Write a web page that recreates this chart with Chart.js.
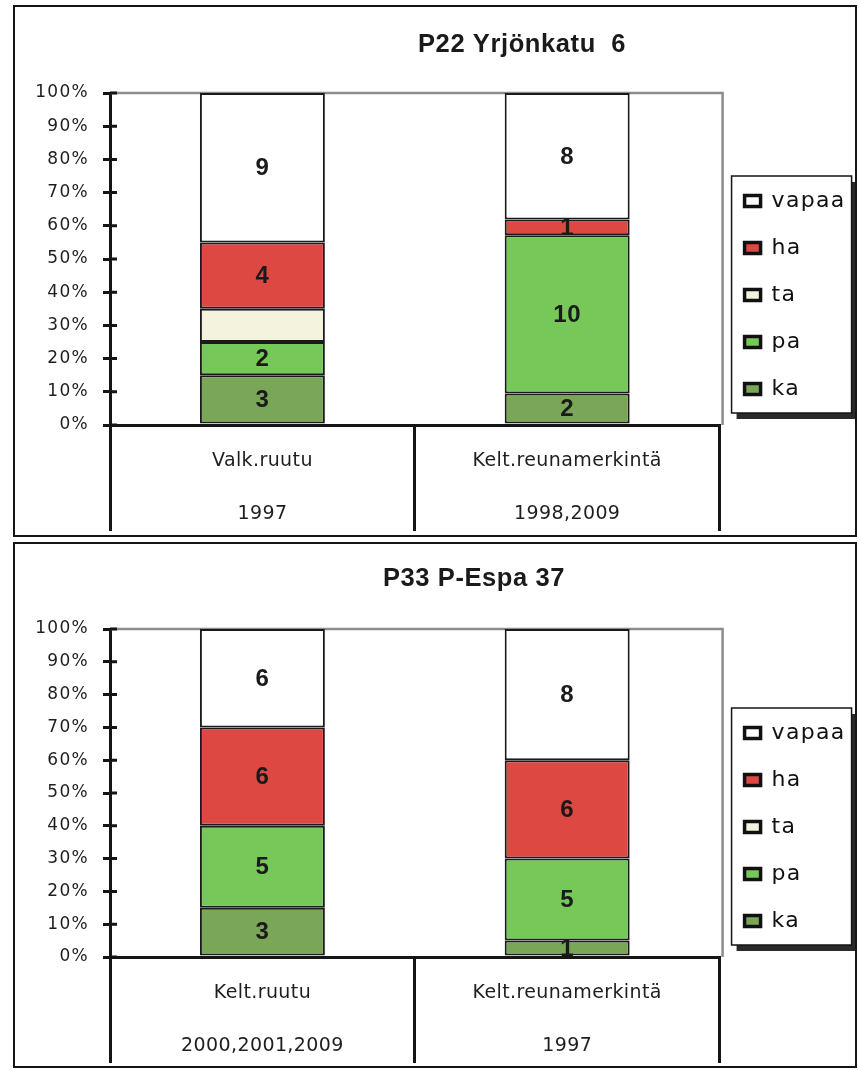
<!DOCTYPE html>
<html>
<head>
<meta charset="utf-8">
<script src="https://cdn.jsdelivr.net/npm/chart.js@4"></script>
<style>
  html, body { margin: 0; padding: 0; background: #fff; }
  .panel { position: absolute; left: 13px; border: 2px solid #151515; background: #fff; }
  .panel canvas { display: block; }
</style>
</head>
<body>
<div class="panel" style="top:5px;width:840px;height:528px"><canvas id="chartP22" width="840" height="528"></canvas></div>
<div class="panel" style="top:542px;width:840px;height:522px"><canvas id="chartP33" width="840" height="522"></canvas></div>
<script>
// Stacking order, bottom to top
const seriesNames = ['ka', 'pa', 'ta', 'ha', 'vapaa'];
// Series whose counts are printed inside the bars
const labelledSeries = ['ka', 'pa', 'ha', 'vapaa'];
// Y axis ticks (percent of the bar)
const percentTicks = [0, 10, 20, 30, 40, 50, 60, 70, 80, 90, 100];

// P22 Yrjönkatu 6
const titleP22 = 'P22 Yrjönkatu  6';
const categoriesP22 = [['Valk.ruutu', '1997'], ['Kelt.reunamerkintä', '1998,2009']];
const p22Ka = [3, 2];
const p22Pa = [2, 10];
const p22Ta = [2, 0];
const p22Ha = [4, 1];
const p22Vapaa = [9, 8];

// P33 P-Espa 37
const titleP33 = 'P33 P-Espa 37';
const categoriesP33 = [['Kelt.ruutu', '2000,2001,2009'], ['Kelt.reunamerkintä', '1997']];
const p33Ka = [3, 1];
const p33Pa = [5, 5];
const p33Ta = [0, 0];
const p33Ha = [6, 6];
const p33Vapaa = [6, 8];

const seriesColors = {
  ka: '#7aa658',
  pa: '#76c958',
  ta: '#f4f4de',
  ha: '#dd4842',
  vapaa: '#ffffff'
};

const INK = '#151515';
const SANS = '"Liberation Sans", Arial, sans-serif';
const WIDE = '"DejaVu Sans", Verdana, sans-serif';

// Frame, title, value labels and inner tick stubs around the Chart.js output
const panelDecor = {
  id: 'panelDecor',
  beforeDraw(chart, args, opts) {
    const { ctx, legend } = chart;
    const hb = legend && legend.legendHitBoxes;
    if (hb && hb.length) {
      const left = legend.left + opts.frameDx;
      const w = opts.frameW;
      const top = hb[0].top - opts.framePadTop;
      const last = hb[hb.length - 1];
      const bottom = last.top + last.height + opts.framePadBottom;
      ctx.save();
      ctx.fillStyle = '#2a2a2a';
      ctx.fillRect(left + w, top + 6, 6, bottom - top);
      ctx.fillRect(left + 5, bottom, w + 1, 6);
      ctx.fillStyle = '#ffffff';
      ctx.fillRect(left, top, w, bottom - top);
      ctx.strokeStyle = INK;
      ctx.lineWidth = 1.5;
      ctx.strokeRect(left, top, w, bottom - top);
      ctx.restore();
    }
    // legend and value-axis text are drawn before the bars
    ctx.letterSpacing = '1.3px';
  },
  beforeDatasetsDraw(chart) {
    const { ctx, chartArea: a } = chart;
    ctx.save();
    ctx.strokeStyle = '#8c8c8c';
    ctx.lineWidth = 2.5;
    ctx.beginPath();
    ctx.moveTo(a.left, a.top);
    ctx.lineTo(a.right + 3, a.top);
    ctx.lineTo(a.right + 3, a.bottom);
    ctx.stroke();
    ctx.restore();
  },
  afterDatasetsDraw(chart) {
    // category labels are drawn after the bars (ticks.z = 1)
    chart.ctx.letterSpacing = '0.4px';
  },
  afterDraw(chart, args, opts) {
    const { ctx, chartArea: a } = chart;
    const yScale = chart.scales.y;
    ctx.save();
    // tick marks crossing to the inside of the value axis
    ctx.strokeStyle = INK;
    ctx.lineWidth = 3;
    ctx.beginPath();
    yScale.ticks.forEach(t => {
      const py = yScale.getPixelForValue(t.value);
      ctx.moveTo(a.left, py);
      ctx.lineTo(a.left + 7, py);
    });
    ctx.stroke();

    // chart title
    ctx.letterSpacing = '0.6px';
    ctx.fillStyle = '#1a1a1a';
    ctx.font = 'bold 25.5px ' + SANS;
    ctx.textAlign = 'center';
    ctx.textBaseline = 'alphabetic';
    ctx.fillText(opts.title, opts.titleX, opts.titleY);

    // counts in the middle of each segment
    ctx.letterSpacing = '0.5px';
    ctx.font = 'bold 24px ' + SANS;
    ctx.textBaseline = 'middle';
    chart.data.datasets.forEach((ds, i) => {
      if (!labelledSeries.includes(ds.label)) return;
      const meta = chart.getDatasetMeta(i);
      meta.data.forEach((el, j) => {
        const n = ds.counts[j];
        if (!n) return;
        ctx.fillText(String(n), el.x, (el.y + el.base) / 2 + 1);
      });
    });
    ctx.restore();
    ctx.letterSpacing = '0px';
  }
};

function buildChart(canvasId, spec) {
  const totals = spec.categories.map((_, j) =>
    seriesNames.reduce((s, name) => s + spec.counts[name][j], 0));
  const datasets = seriesNames.map(name => ({
    label: name,
    counts: spec.counts[name],
    data: spec.counts[name].map((c, j) => c / totals[j] * 100),
    backgroundColor: seriesColors[name],
    borderColor: '#1a1a1a',
    borderWidth: 2,
    borderSkipped: false,
    barPercentage: 0.41,
    categoryPercentage: 1.0
  }));

  return new Chart(document.getElementById(canvasId), {
    type: 'bar',
    data: { labels: spec.categories, datasets },
    options: {
      responsive: false,
      animation: false,
      events: [],
      layout: { padding: { top: spec.plotTop, right: 6, bottom: 0, left: 0 } },
      scales: {
        x: {
          stacked: true,
          offset: true,
          grid: { drawOnChartArea: false, drawTicks: true, tickLength: 106, lineWidth: 3, color: INK, offset: true },
          border: { display: true, width: 3, color: INK },
          ticks: {
            padding: -96, z: 1, color: '#1e1e1e', maxRotation: 0, autoSkip: false,
            font: { family: WIDE, size: 19, lineHeight: 53 / 19 }
          },
          afterFit: s => { s.height = spec.axisBand; }
        },
        y: {
          stacked: true,
          min: 0,
          max: 100,
          grid: { drawOnChartArea: false, drawTicks: true, tickLength: 7, lineWidth: 3, color: INK },
          border: { display: true, width: 3, color: INK },
          ticks: {
            padding: 14, color: '#1e1e1e',
            font: { family: WIDE, size: 17 },
            callback: v => v + '%'
          },
          afterBuildTicks: s => { s.ticks = percentTicks.map(v => ({ value: v })); },
          afterFit: s => { s.width = 95; }
        }
      },
      plugins: {
        title: { display: false },
        tooltip: { enabled: false },
        legend: {
          position: 'right',
          align: 'end',
          fullSize: false,
          reverse: true,
          labels: {
            boxWidth: 16,
            boxHeight: 11,
            padding: 25,
            color: '#111',
            font: { family: WIDE, size: 22 },
            generateLabels: chart => chart.data.datasets.map((ds, i) => ({
              text: ds.label,
              fillStyle: ds.backgroundColor,
              strokeStyle: '#111',
              lineWidth: 3.5,
              hidden: false,
              datasetIndex: i,
              fontColor: '#111'
            }))
          }
        },
        panelDecor: {
          title: spec.title,
          titleX: spec.titleX,
          titleY: spec.titleY,
          frameDx: 12,
          frameW: 120,
          framePadTop: 14,
          framePadBottom: 13
        }
      }
    },
    plugins: [panelDecor]
  });
}

buildChart('chartP22', {
  title: titleP22,
  titleX: 507,
  titleY: 45,
  plotTop: 86,
  axisBand: 110,
  categories: categoriesP22,
  counts: { ka: p22Ka, pa: p22Pa, ta: p22Ta, ha: p22Ha, vapaa: p22Vapaa }
});

buildChart('chartP33', {
  title: titleP33,
  titleX: 459,
  titleY: 42,
  plotTop: 85,
  axisBand: 109,
  categories: categoriesP33,
  counts: { ka: p33Ka, pa: p33Pa, ta: p33Ta, ha: p33Ha, vapaa: p33Vapaa }
});
</script>
</body>
</html>
